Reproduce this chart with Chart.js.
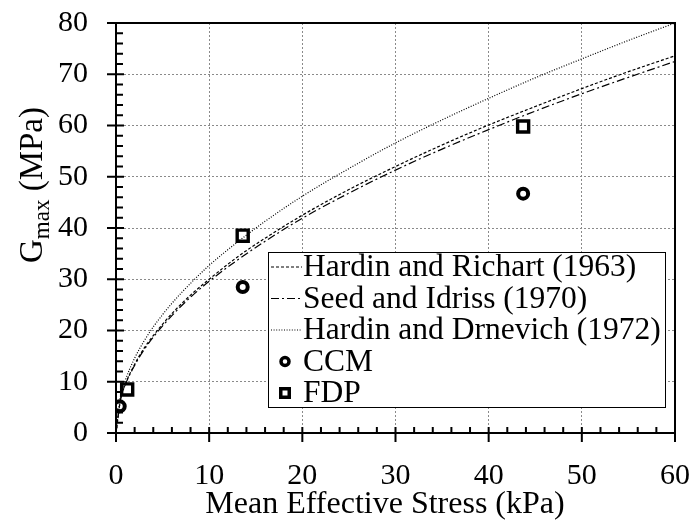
<!DOCTYPE html>
<html>
<head>
<meta charset="utf-8">
<script src="https://cdn.jsdelivr.net/npm/chart.js@4.4.0/dist/chart.umd.min.js"></script>
<style>
  html, body { margin: 0; padding: 0; background: #fff; }
  #wrap { width: 691px; height: 521px; }
</style>
</head>
<body>
<div id="wrap"><canvas id="gmaxChart" width="691" height="521"></canvas></div>
<script>
// mean effective stress (kPa) where the empirical curves were read
const stressPts = [0, 0.5, 1, 2, 3, 4, 6, 8, 10, 13, 16, 20, 25, 30, 35, 40, 45, 50, 55, 60];
// Gmax (MPa)
const hardinRichart = [0, 6.7, 9.5, 13.4, 16.5, 19.0, 23.3, 26.9, 30.0, 34.3, 38.0, 42.5, 47.5, 52.0, 56.2, 60.1, 63.7, 67.2, 70.5, 73.6];
const seedIdriss = [0, 6.6, 9.4, 13.2, 16.2, 18.7, 22.9, 26.5, 29.6, 33.7, 37.4, 41.9, 46.8, 51.3, 55.4, 59.2, 62.8, 66.2, 69.4, 72.5];
const hardinDrnevich = [0, 7.3, 10.3, 14.6, 17.9, 20.7, 25.3, 29.2, 32.7, 37.2, 41.3, 46.2, 51.6, 56.6, 61.1, 65.3, 69.3, 73.0, 76.6, 80.0];

// measured points
const ccmStress = [0.4, 13.6, 43.7];
const ccmG = [5.2, 28.5, 46.7];
const fdpStress = [1.2, 13.6, 43.7];
const fdpG = [8.5, 38.5, 59.8];

const xTicks = [0, 10, 20, 30, 40, 50, 60];
const yTicks = [0, 10, 20, 30, 40, 50, 60, 70, 80];

const serif = '"Liberation Serif", "Times New Roman", serif';
Chart.defaults.font.family = serif;
Chart.defaults.color = '#000';

const toXY = (xs, ys) => xs.map((x, i) => ({ x: x, y: ys[i] }));

function curve(label, values, dash) {
  return {
    type: 'line',
    label: label,
    data: toXY(stressPts, values),
    borderColor: '#000',
    borderWidth: 1.2,
    borderDash: dash,
    pointRadius: 0,
    fill: false,
    cubicInterpolationMode: 'monotone'
  };
}

function markers(label, xs, ys, style, r, bw) {
  return {
    type: 'scatter',
    label: label,
    data: toXY(xs, ys),
    pointStyle: style,
    pointRadius: r,
    pointBorderWidth: bw,
    borderWidth: bw,
    pointBorderColor: '#000',
    pointBackgroundColor: '#fff',
    borderColor: '#000',
    backgroundColor: '#fff',
    showLine: false
  };
}

// frame, inward minor ticks and crossing major ticks
const axisDecor = {
  id: 'axisDecor',
  afterDatasetsDraw(chart) {
    const { ctx, chartArea: a, scales: { x, y } } = chart;
    ctx.save();
    ctx.strokeStyle = '#000';
    ctx.lineWidth = 2;
    ctx.strokeRect(a.left, a.top, a.right - a.left, a.bottom - a.top);
    ctx.beginPath();
    for (let v = 0; v <= 80; v += 2) {
      const py = y.getPixelForValue(v);
      const major = v % 10 === 0;
      ctx.moveTo(a.left - (major ? 9 : 0), py);
      ctx.lineTo(a.left + (major ? 8 : 7), py);
    }
    for (let v = 0; v <= 60; v += 2) {
      const px = x.getPixelForValue(v);
      const major = v % 10 === 0;
      ctx.moveTo(px, a.bottom + (major ? 9 : 0));
      ctx.lineTo(px, a.bottom - 6);
    }
    ctx.stroke();
    ctx.restore();
  }
};

// legend box inside the plot
const boxLegend = {
  id: 'boxLegend',
  afterDatasetsDraw(chart) {
    const ctx = chart.ctx;
    const left = 268, top = 252, w = 397, h = 155;
    ctx.save();
    ctx.fillStyle = '#fff';
    ctx.fillRect(left, top, w, h);
    ctx.strokeStyle = '#000';
    ctx.lineWidth = 1;
    ctx.strokeRect(left + 0.5, top + 0.5, w, h);
    ctx.font = '31.5px ' + serif;
    ctx.fillStyle = '#000';
    ctx.textBaseline = 'middle';
    chart.data.datasets.forEach((ds, i) => {
      const cy = top + 15 + i * 31.5;
      if (ds.type === 'line') {
        ctx.setLineDash(ds.borderDash);
        ctx.lineWidth = 1.2;
        ctx.beginPath();
        ctx.moveTo(left + 3, cy);
        ctx.lineTo(left + 34, cy);
        ctx.stroke();
        ctx.setLineDash([]);
      } else {
        ctx.lineWidth = 3.5;
        ctx.fillStyle = '#fff';
        Chart.helpers.drawPoint(ctx, {
          pointStyle: ds.pointStyle,
          radius: ds.pointStyle === 'rect' ? 6 : 4,
          rotation: 0,
          borderWidth: 3.5
        }, left + 17, cy);
        ctx.fillStyle = '#000';
      }
      ctx.fillText(ds.label, left + 35, cy + 1);
    });
    ctx.restore();
  }
};

// axis titles (y title needs a subscript)
const axisTitles = {
  id: 'axisTitles',
  afterDraw(chart) {
    const ctx = chart.ctx;
    ctx.save();
    ctx.fillStyle = '#000';
    ctx.textBaseline = 'alphabetic';
    ctx.font = '32px ' + serif;
    ctx.textAlign = 'center';
    ctx.fillText('Mean Effective Stress (kPa)', 385, 513);

    const big = '33px ' + serif, small = '23px ' + serif;
    ctx.textAlign = 'left';
    ctx.font = big; const wG = ctx.measureText('G').width;
    ctx.font = small; const wSub = ctx.measureText('max').width;
    ctx.font = big; const wRest = ctx.measureText(' (MPa)').width;
    const total = wG + wSub + wRest;
    ctx.translate(42, 185);
    ctx.rotate(-Math.PI / 2);
    let cx = -total / 2;
    ctx.font = big; ctx.fillText('G', cx, 0); cx += wG;
    ctx.font = small; ctx.fillText('max', cx, 7); cx += wSub;
    ctx.font = big; ctx.fillText(' (MPa)', cx, 0);
    ctx.restore();
  }
};

const ctx = document.getElementById('gmaxChart').getContext('2d');
new Chart(ctx, {
  type: 'scatter',
  data: {
    datasets: [
      curve('Hardin and Richart (1963)', hardinRichart, [3, 2]),
      curve('Seed and Idriss (1970)', seedIdriss, [8, 3, 2, 3]),
      curve('Hardin and Drnevich (1972)', hardinDrnevich, [1, 1.6]),
      markers('CCM', ccmStress, ccmG, 'circle', 5, 4),
      markers('FDP', fdpStress, fdpG, 'rect', 7.8, 3.4)
    ]
  },
  options: {
    responsive: false,
    animation: false,
    layout: { padding: 0 },
    plugins: { legend: { display: false }, tooltip: { enabled: false } },
    scales: {
      x: {
        type: 'linear',
        min: 0, max: 60,
        afterBuildTicks: s => { s.ticks = xTicks.map(v => ({ value: v })); },
        afterFit: s => { s.height = 88; s.paddingLeft = 0; s.paddingRight = 16; },
        ticks: { font: { size: 30 }, padding: 25, maxRotation: 0 },
        grid: { color: '#8a8a8a', lineWidth: 1, drawTicks: false },
        border: { display: false, dash: [2, 2] }
      },
      y: {
        type: 'linear',
        min: 0, max: 80,
        afterBuildTicks: s => { s.ticks = yTicks.map(v => ({ value: v })); },
        afterFit: s => { s.width = 116; s.paddingTop = 23; s.paddingBottom = 0; },
        ticks: { font: { size: 30 }, padding: 28 },
        grid: { color: '#8a8a8a', lineWidth: 1, drawTicks: false },
        border: { display: false, dash: [2, 2] }
      }
    }
  },
  plugins: [axisDecor, boxLegend, axisTitles]
});
</script>
</body>
</html>
